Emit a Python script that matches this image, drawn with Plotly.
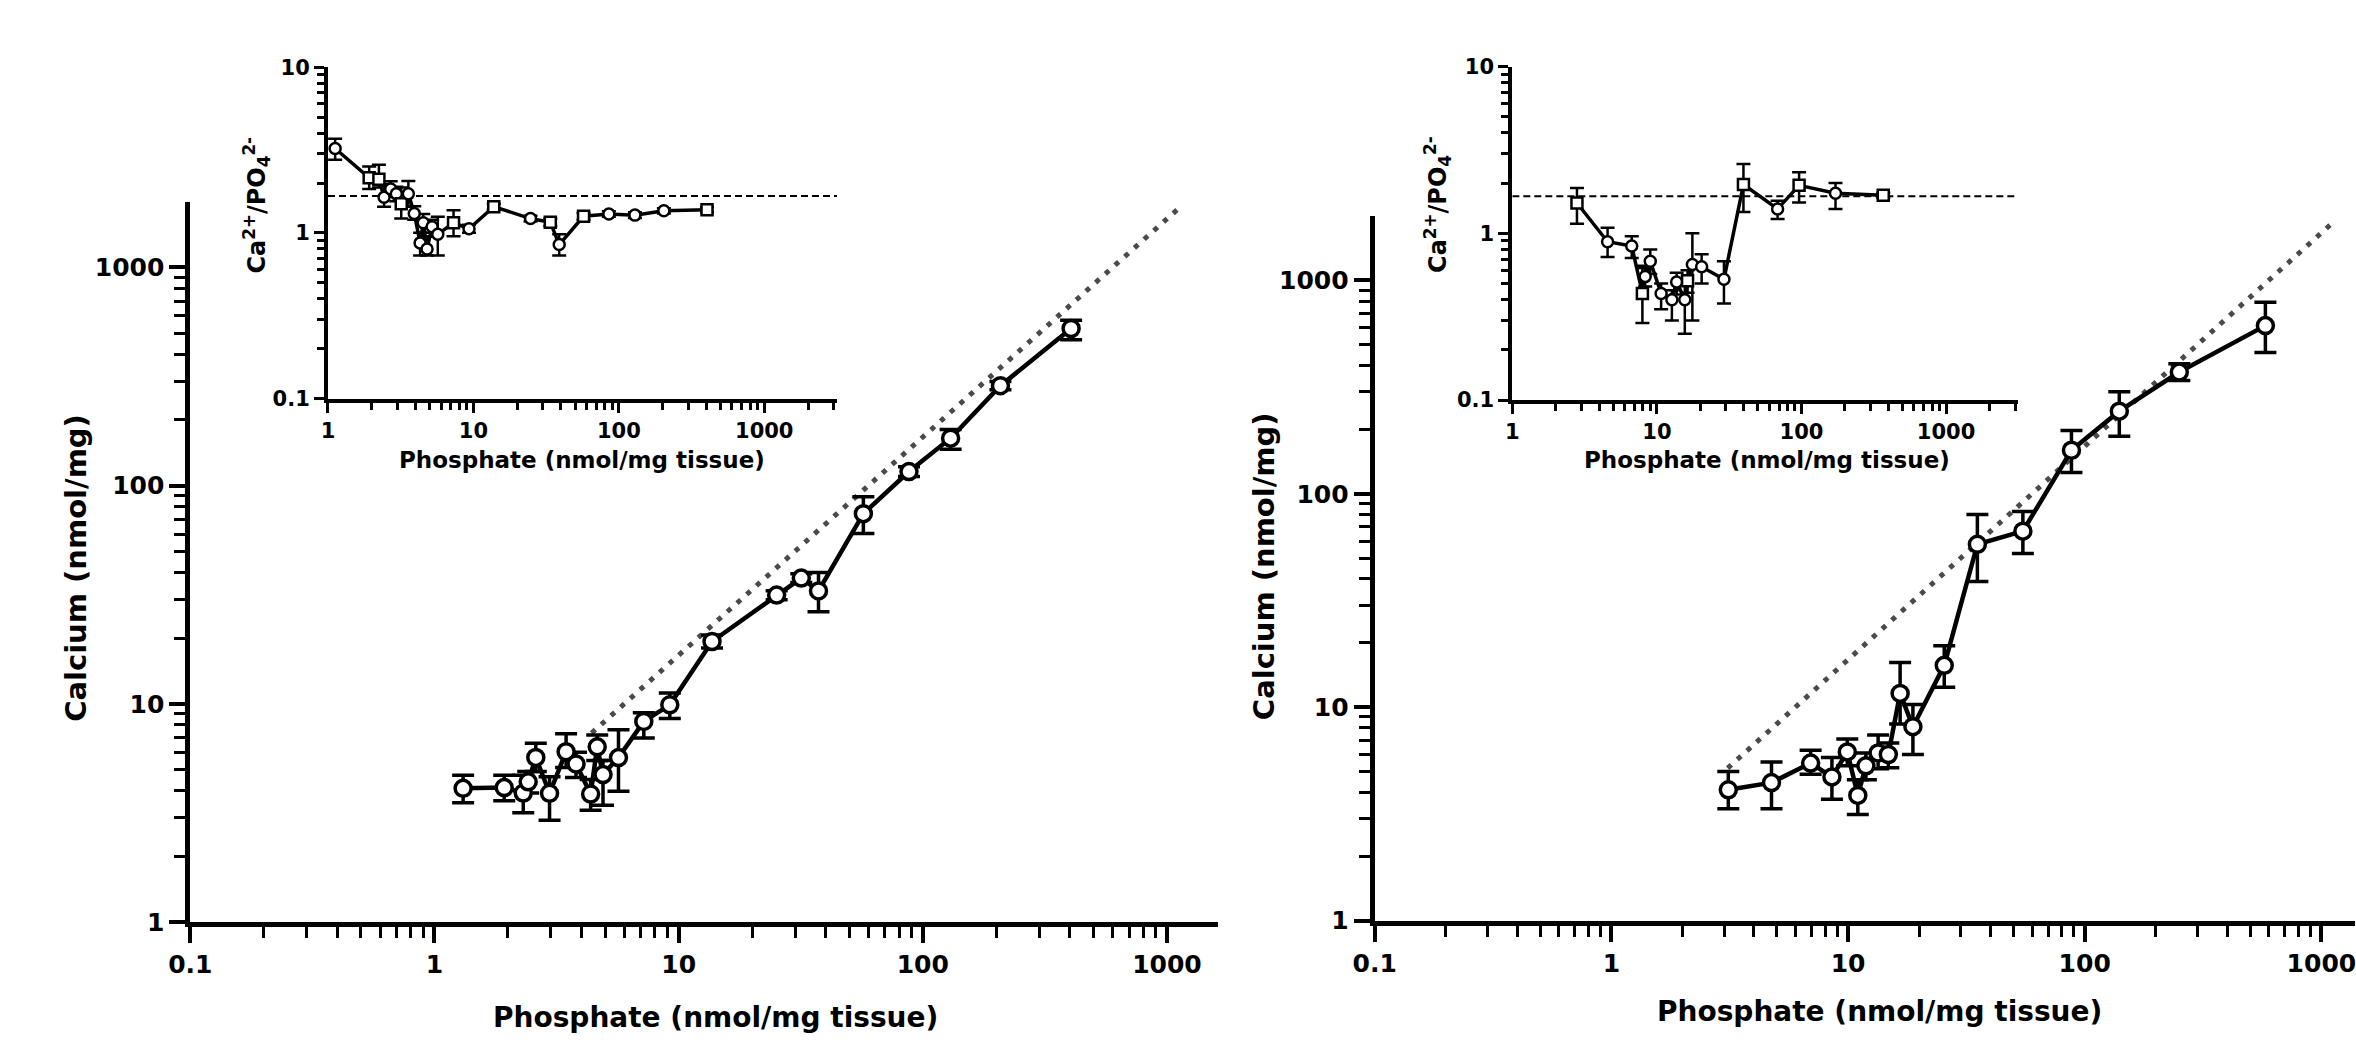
import plotly.graph_objects as go

# ---------------- data ----------------
# Left main panel: Calcium vs Phosphate
left_x = [1.31, 1.93, 2.31, 2.42, 2.6, 2.96, 3.46, 3.8, 4.36, 4.64, 4.9, 5.67, 7.2, 9.2, 13.7, 25.2, 31.8, 37.4, 57.1, 87.8, 130, 208, 405]
left_y = [4.1, 4.13, 3.9, 4.39, 5.68, 3.89, 6.03, 5.3, 3.86, 6.35, 4.74, 5.67, 8.3, 9.9, 19.3, 31.5, 37.7, 32.9, 74.4, 116, 165, 287, 525]
left_lo = [3.52, 3.6, 3.17, 3.9, 4.9, 2.93, 5.1, 4.6, 3.25, 5.5, 3.43, 3.97, 6.97, 8.57, 18.0, 30.0, 36.0, 26.4, 60.4, 110, 147, 275, 466]
left_hi = [4.7, 4.71, 4.7, 4.9, 6.6, 4.63, 7.3, 6.0, 4.5, 7.2, 5.5, 7.6, 9.1, 11.2, 20.7, 33.0, 39.5, 40.0, 88.9, 122, 181, 300, 573]

# Right main panel
right_x = [3.12, 4.75, 6.95, 8.55, 9.93, 11.0, 11.9, 13.4, 14.8, 16.6, 18.8, 25.5, 35.2, 54.8, 87.9, 140, 251, 580]
right_y = [4.1, 4.43, 5.47, 4.71, 6.17, 3.86, 5.31, 6.1, 6.0, 11.6, 8.1, 15.7, 58, 66.8, 160, 244, 372, 614]
right_lo = [3.34, 3.34, 4.85, 3.7, 5.31, 3.14, 4.57, 5.15, 5.2, 8.35, 6.0, 12.4, 38.8, 52.5, 126, 186, 340, 459]
right_hi = [5.0, 5.54, 6.29, 5.81, 7.1, 4.57, 6.1, 7.4, 6.8, 16.2, 10.3, 19.4, 80, 82.5, 198, 301, 407, 791]

# Left inset: Ca/PO4 ratio
lin_x = [1.12, 1.92, 2.24, 2.43, 2.7, 2.95, 3.19, 3.57, 3.92, 4.3, 4.52, 4.8, 5.2, 5.69, 7.3, 9.33, 13.8, 24.7, 33.8, 38.9, 57.2, 85.4, 129, 204, 404]
lin_y = [3.23, 2.15, 2.11, 1.64, 1.84, 1.72, 1.5, 1.72, 1.31, 0.87, 1.15, 0.8, 1.09, 0.98, 1.15, 1.06, 1.44, 1.22, 1.16, 0.85, 1.26, 1.3, 1.28, 1.36, 1.38]
lin_lo = [2.76, 1.84, 1.88, 1.44, 1.65, 1.55, 1.22, 1.44, 1.2, 0.73, 1.0, 0.73, 0.95, 0.73, 0.955, 1.0, 1.38, 1.17, 1.1, 0.73, 1.2, 1.25, 1.23, 1.31, 1.33]
lin_hi = [3.7, 2.52, 2.58, 1.97, 2.05, 1.9, 1.88, 2.06, 1.45, 1.0, 1.3, 0.955, 1.2, 1.25, 1.37, 1.12, 1.5, 1.27, 1.22, 0.98, 1.32, 1.35, 1.33, 1.41, 1.43]

# Right inset
rin_x = [2.8, 4.56, 6.7, 7.94, 8.3, 9.0, 10.7, 12.7, 13.7, 15.6, 16.3, 17.6, 20.4, 29.1, 39.7, 68.4, 96.3, 172, 368]
rin_y = [1.52, 0.89, 0.84, 0.436, 0.55, 0.68, 0.436, 0.40, 0.51, 0.40, 0.52, 0.65, 0.63, 0.53, 1.96, 1.4, 1.94, 1.74, 1.69]
rin_lo = [1.14, 0.72, 0.71, 0.29, 0.48, 0.57, 0.35, 0.30, 0.43, 0.25, 0.44, 0.30, 0.5, 0.38, 1.34, 1.22, 1.53, 1.4, 1.63]
rin_hi = [1.87, 1.08, 0.96, 0.64, 0.62, 0.8, 0.5, 0.456, 0.58, 0.5, 0.6, 1.0, 0.75, 0.68, 2.6, 1.57, 2.32, 2.0, 1.75]

# Reference ratio (hydroxyapatite Ca/P) and its line extents
ratio_ref = 1.67
left_ref_x = [4.4, 1130]
right_ref_x = [3.1, 1130]
inset_ref_x = [1, 3162]

main_tickvals = [0.1, 1, 10, 100, 1000]
main_ticktext = ["0.1", "1", "10", "100", "1000"]
main_ytickvals = [1, 10, 100, 1000]
main_yticktext = ["1", "10", "100", "1000"]
inset_xtickvals = [1, 10, 100, 1000]
inset_xticktext = ["1", "10", "100", "1000"]
inset_ytickvals = [0.1, 1, 10]
inset_yticktext = ["0.1", "1", "10"]

x_title = "Phosphate (nmol/mg tissue)"
y_title = "Calcium (nmol/mg)"
inset_y_title = "Ca<sup>2+</sup>/PO<sub>4</sub><sup>2-</sup>"

# symbols for inset markers (style)
lin_sym = ["circle", "square", "square", "circle", "circle", "circle", "square", "circle", "circle", "circle",
           "circle", "circle", "circle", "circle", "square", "circle", "square", "circle", "square", "circle",
           "square", "circle", "circle", "circle", "square"]
rin_sym = ["square", "circle", "circle", "square", "circle", "circle", "circle", "circle", "circle", "circle",
           "square", "circle", "circle", "circle", "square", "circle", "square", "circle", "square"]

FONT = "DejaVu Sans"

def minor_vals(e0, e1):
    return [m * 10 ** e for e in range(e0, e1) for m in range(2, 10)]

def diffs(y, lo, hi):
    return [h - v for v, h in zip(y, hi)], [v - l for v, l in zip(y, lo)]

fig = go.Figure()

# dotted reference lines (main)
for xs, xa, ya in [(left_ref_x, "x", "y"), (right_ref_x, "x2", "y2")]:
    fig.add_trace(go.Scatter(x=xs, y=[ratio_ref * v for v in xs], mode="lines",
                             line=dict(color="#4a4a4a", width=5, dash="5px,8px"),
                             xaxis=xa, yaxis=ya, hoverinfo="skip"))

# dashed reference lines (insets)
for xa, ya in [("x3", "y3"), ("x4", "y4")]:
    fig.add_trace(go.Scatter(x=inset_ref_x, y=[ratio_ref, ratio_ref], mode="lines",
                             line=dict(color="black", width=2, dash="7px,4px"),
                             xaxis=xa, yaxis=ya, hoverinfo="skip"))

# main data
for xs, ys, lo, hi, xa, ya in [(left_x, left_y, left_lo, left_hi, "x", "y"),
                               (right_x, right_y, right_lo, right_hi, "x2", "y2")]:
    p, m = diffs(ys, lo, hi)
    fig.add_trace(go.Scatter(
        x=xs, y=ys, mode="lines+markers", xaxis=xa, yaxis=ya,
        line=dict(color="black", width=4.5),
        marker=dict(symbol="circle", size=16, color="white", line=dict(color="black", width=3.5)),
        error_y=dict(type="data", symmetric=False, array=p, arrayminus=m,
                     color="black", thickness=3.5, width=11)))

# inset data
for xs, ys, lo, hi, sym, xa, ya in [(lin_x, lin_y, lin_lo, lin_hi, lin_sym, "x3", "y3"),
                                    (rin_x, rin_y, rin_lo, rin_hi, rin_sym, "x4", "y4")]:
    p, m = diffs(ys, lo, hi)
    fig.add_trace(go.Scatter(
        x=xs, y=ys, mode="lines+markers", xaxis=xa, yaxis=ya,
        line=dict(color="black", width=3.5),
        marker=dict(symbol=sym, size=11, color="white", line=dict(color="black", width=2.5)),
        error_y=dict(type="data", symmetric=False, array=p, arrayminus=m,
                     color="black", thickness=2.5, width=7)))

def axis(domain, rng, anchor, tv, tt, minv, main=True):
    lw = 5 if main else 4
    return dict(type="log", domain=domain, range=rng, anchor=anchor,
                showline=True, linecolor="black", linewidth=lw,
                showgrid=False, zeroline=False,
                ticks="outside", ticklen=16 if main else 10, tickwidth=4 if main else 3,
                tickcolor="black",
                tickmode="array", tickvals=tv, ticktext=tt,
                ticklabeloverflow="allow",
                tickfont=dict(family=FONT, size=25 if main else 21, color="black", weight="bold"),
                minor=dict(tickmode="array", tickvals=minv, ticks="outside",
                           ticklen=11 if main else 7, tickwidth=3 if main else 2.5,
                           tickcolor="black", showgrid=False))

W, H = 2356, 1051
def px(v): return v / W
def py(v): return 1 - v / H

fig.update_layout(
    width=W, height=H, margin=dict(l=0, r=0, t=0, b=0),
    paper_bgcolor="white", plot_bgcolor="rgba(0,0,0,0)",
    showlegend=False,
    xaxis=axis([px(170), px(1208)], [-1, 3.21], "y", main_tickvals, main_ticktext, minor_vals(-1, 4)),
    yaxis=axis([py(934), py(195)], [0, 3.3], "x", main_ytickvals, main_yticktext, minor_vals(0, 4)),
    xaxis2=axis([px(1366), 1.0], [-1, 3.142], "y2", main_tickvals, main_ticktext, minor_vals(-1, 4)),
    yaxis2=axis([py(932.5), py(209.8)], [0, 3.3], "x2", main_ytickvals, main_yticktext, minor_vals(0, 4)),
    xaxis3=axis([px(309), px(823)], [0, 3.5], "y3", inset_xtickvals, inset_xticktext, minor_vals(0, 4), main=False),
    yaxis3=axis([py(396.7), py(56.7)], [-1, 1], "x3", inset_ytickvals, inset_yticktext, minor_vals(-1, 1), main=False),
    xaxis4=axis([px(1505), px(2016)], [0, 3.5], "y4", inset_xtickvals, inset_xticktext, minor_vals(0, 4), main=False),
    yaxis4=axis([py(398.3), py(56)], [-1, 1], "x4", inset_ytickvals, inset_yticktext, minor_vals(-1, 1), main=False),
)

ann = []
def add_text(text, x, y, size, angle=0):
    ann.append(dict(text="<b>" + text + "</b>", x=px(x), y=py(y), xref="paper", yref="paper",
                    showarrow=False, textangle=angle, xanchor="center", yanchor="middle",
                    font=dict(family=FONT, size=size, color="black")))

add_text(x_title, 700, 1032, 28)
add_text(x_title, 1876, 1026, 28)
add_text(y_title, 55, 570, 29, -90)
add_text(y_title, 1255, 569, 29, -90)
add_text(x_title, 566, 460, 23)
add_text(x_title, 1762, 460, 23)
add_text(inset_y_title, 237, 198, 24, -90)
add_text(inset_y_title, 1430, 198, 24, -90)
fig.update_layout(annotations=ann)

fig.write_html("out.html")
